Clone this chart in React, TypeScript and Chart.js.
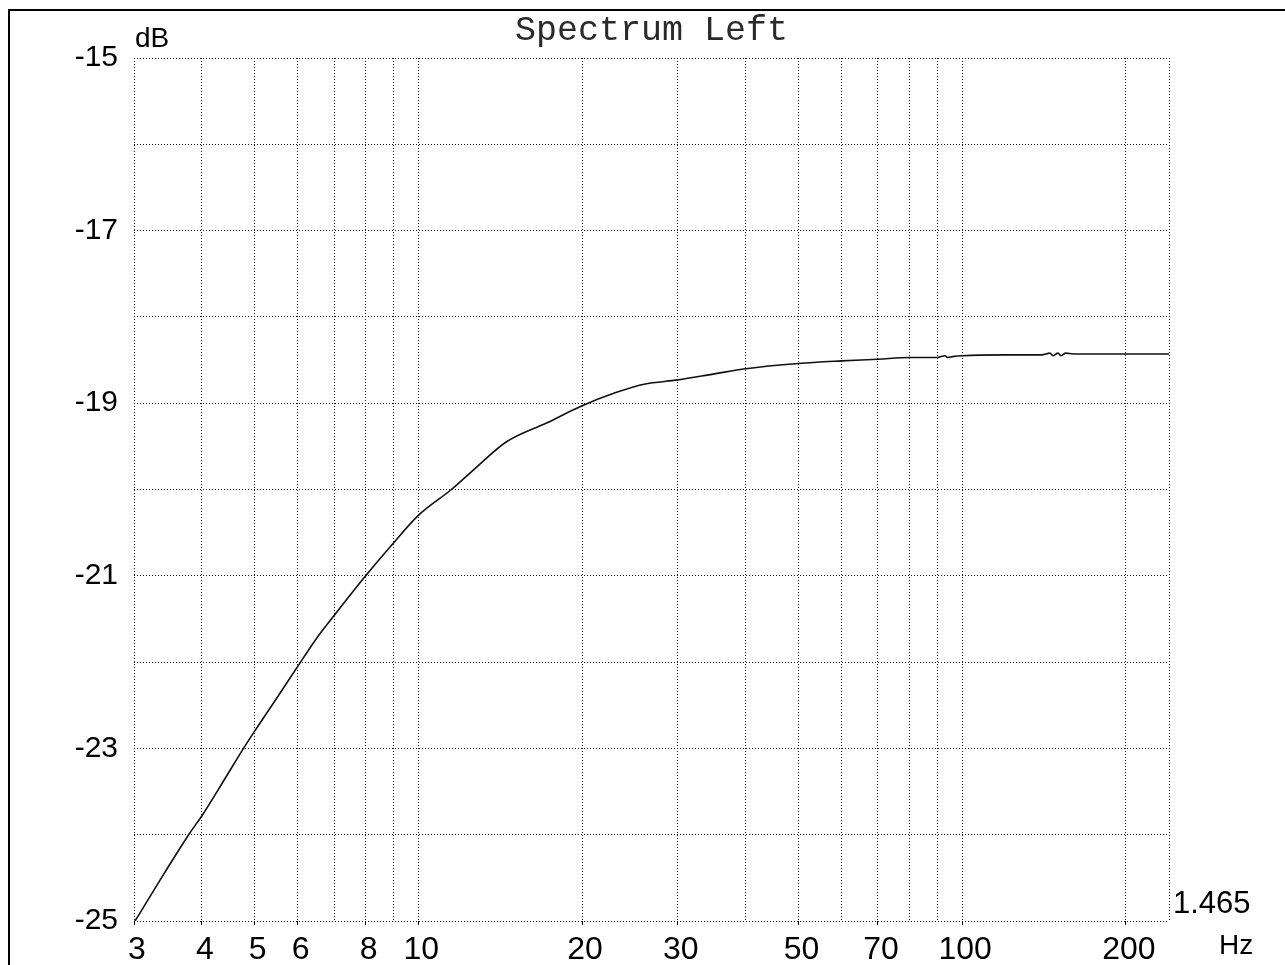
import React, { useEffect, useRef } from "react";
import { Chart, registerables } from "chart.js";

Chart.register(...registerables);

const TITLE = "Spectrum Left";
const Y_UNIT = "dB";
const X_UNIT = "Hz";
const CORNER_VALUE = "1.465";

const X_MIN = 3;
const X_MAX = 240;
const Y_MIN = -25;
const Y_MAX = -15;

const X_GRID = [3, 4, 5, 6, 7, 8, 9, 10, 20, 30, 40, 50, 60, 70, 80, 90, 100, 200, 240];
const X_LABELED = [3, 4, 5, 6, 8, 10, 20, 30, 50, 70, 100, 200];
const Y_LABELED = [-15, -17, -19, -21, -23, -25];

const FREQS = [
  3.0, 3.4, 3.8, 4.0, 4.4, 4.77, 5.0, 5.5, 6.0, 6.54, 7.0, 8.0, 9.0, 10.0,
  11.5, 12.8, 14.5, 17.2, 20, 23, 26, 30, 35, 40, 50, 60, 70, 80, 90, 93,
  94, 96, 100, 120, 140, 145, 147, 150, 152, 155, 160, 200, 240,
];
const LEVELS = [
  -25.02, -24.46, -23.98, -23.78, -23.36, -23.0, -22.8, -22.41, -22.05, -21.7,
  -21.46, -21.0, -20.62, -20.3, -20.0, -19.74, -19.45, -19.23, -19.03, -18.88,
  -18.78, -18.73, -18.66, -18.6, -18.54, -18.51, -18.49, -18.47, -18.47,
  -18.45, -18.47, -18.46, -18.45, -18.44, -18.44, -18.42, -18.45, -18.42,
  -18.45, -18.42, -18.43, -18.43, -18.43,
];

const SANS = "'Liberation Sans', Arial, sans-serif";
const MONO = "'Liberation Mono', 'Courier New', monospace";

const decorPlugin = {
  id: "decor",
  afterDraw(chart: any) {
    const ctx = chart.ctx;
    const area = chart.chartArea;
    ctx.save();
    ctx.fillStyle = "#000";
    ctx.fillRect(8, 9, chart.width - 8, 2);
    ctx.fillRect(8, 9, 2, chart.height - 9);
    ctx.fillStyle = "#2a2a2a";
    ctx.font = `35px ${MONO}`;
    ctx.textAlign = "center";
    ctx.textBaseline = "alphabetic";
    ctx.fillText(TITLE, (area.left + area.right) / 2, 40);
    ctx.fillStyle = "#000";
    ctx.font = `28px ${SANS}`;
    ctx.textAlign = "left";
    ctx.fillText(Y_UNIT, area.left + 1, 47);
    ctx.fillText(X_UNIT, area.right + 50, 954);
    ctx.font = `31px ${SANS}`;
    ctx.fillText(CORNER_VALUE, area.right + 4, 913);
    ctx.restore();
  },
};

export default function App() {
  const ref = useRef<HTMLCanvasElement | null>(null);

  useEffect(() => {
    if (!ref.current) return;
    const points = FREQS.map((f, i) => ({ x: f, y: LEVELS[i] }));
    const chart = new Chart(ref.current, {
      type: "line",
      data: {
        datasets: [
          {
            data: points,
            borderColor: "#111",
            borderWidth: 1.6,
            pointRadius: 0,
            cubicInterpolationMode: "monotone",
            fill: false,
          },
        ],
      },
      options: {
        responsive: false,
        animation: false,
        devicePixelRatio: 1,
        layout: { padding: { top: 58, right: 116, left: 0, bottom: 0 } },
        plugins: {
          legend: { display: false },
          title: { display: false },
          tooltip: { enabled: false },
        },
        scales: {
          x: {
            type: "logarithmic",
            min: X_MIN,
            max: X_MAX,
            afterBuildTicks: (scale: any) => {
              scale.ticks = X_GRID.map((v) => ({ value: v }));
            },
            afterFit: (scale: any) => {
              scale.height = 44;
            },
            border: { display: false, dash: [1, 2] },
            grid: {
              color: "#1a1a1a",
              lineWidth: 1,
              drawTicks: true,
              tickLength: 4,
              tickBorderDash: [],
              tickColor: (c: any) =>
                c.tick && X_LABELED.includes(c.tick.value) ? "#000" : "rgba(0,0,0,0)",
            },
            ticks: {
              autoSkip: false,
              maxRotation: 0,
              minRotation: 0,
              padding: 6,
              labelOffset: 3,
              color: "#000",
              font: { family: SANS, size: 32 },
              callback: (value: any) =>
                X_LABELED.includes(Number(value)) ? String(value) : "",
            },
          },
          y: {
            type: "linear",
            min: Y_MIN,
            max: Y_MAX,
            afterFit: (scale: any) => {
              scale.width = 134;
            },
            border: { display: false, dash: [1, 2] },
            grid: {
              color: "#1a1a1a",
              lineWidth: 1,
              drawTicks: false,
            },
            ticks: {
              stepSize: 1,
              padding: 16,
              color: "#000",
              font: { family: SANS, size: 30 },
              callback: (value: any) =>
                Y_LABELED.includes(Number(value)) ? String(value) : "",
            },
          },
        },
      },
      plugins: [decorPlugin],
    });
    return () => chart.destroy();
  }, []);

  return (
    <div
      style={{
        position: "fixed",
        left: 0,
        top: 0,
        width: 1285,
        height: 965,
        background: "#fff",
      }}
    >
      <canvas ref={ref} width={1285} height={965} style={{ display: "block" }} />
    </div>
  );
}
